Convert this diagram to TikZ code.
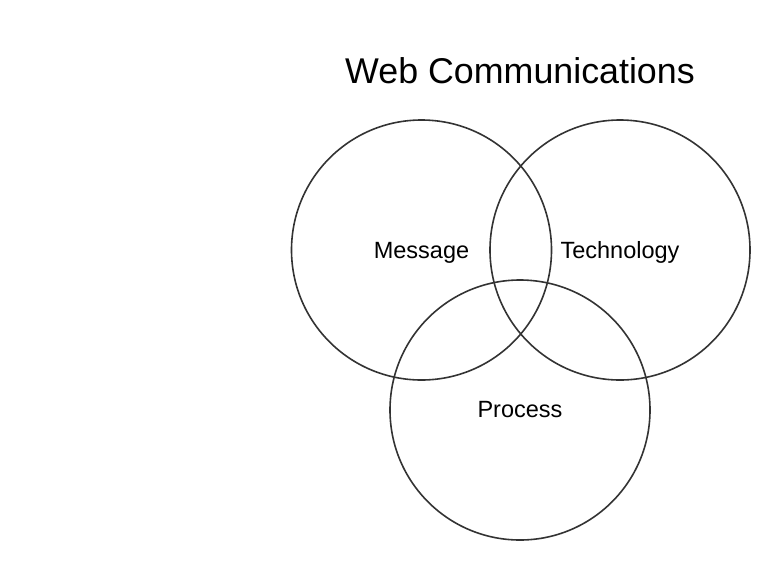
\documentclass[tikz,border=0pt]{standalone}
\usepackage{fontspec}
\setmainfont{Liberation Sans}
\begin{document}
\begin{tikzpicture}[x=1pt,y=-1pt,
  ring/.style={circle,draw=black!80,line width=1.6pt,minimum size=260pt,inner sep=0pt},
  lbl/.style={font=\fontsize{23.5}{28}\selectfont,inner sep=0pt,anchor=base},
  ttl/.style={font=\fontsize{35.8}{42}\selectfont,inner sep=0pt,anchor=base}]
\useasboundingbox (0,0) rectangle (770,560);
\node[ring] (m) at (421.5,250) {};
\node[ring] (t) at (620,250) {};
\node[ring] (p) at (520,410) {};
\node[ttl] (title) at (520,83.3) {Web Communications};
\node[lbl] (ml) at (421.5,258.3) {Message};
\node[lbl] (tl) at (620,258.3) {Technology};
\node[lbl] (pl) at (520,417.5) {Process};
\end{tikzpicture}
\end{document}
